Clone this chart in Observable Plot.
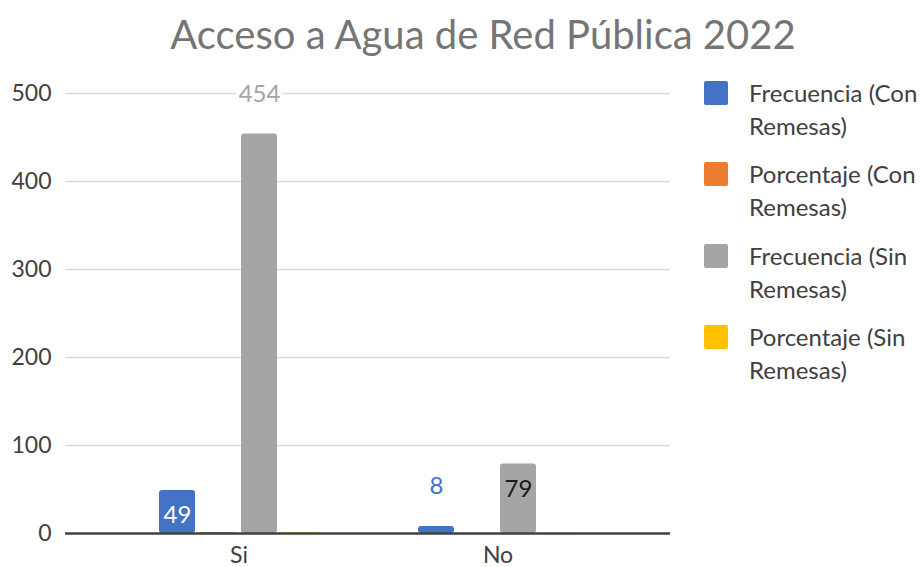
<!DOCTYPE html>
<html>
<head>
<meta charset="utf-8">
<script src="https://cdn.jsdelivr.net/npm/d3@7"></script>
<script src="https://cdn.jsdelivr.net/npm/@observablehq/plot@0.6"></script>
<style>
  html, body { margin: 0; padding: 0; background: #fff; overflow: hidden; }
  #wrap { position: relative; width: 923px; height: 567px; font-family: Lato, "Open Sans", sans-serif; overflow: hidden; }
  #title { position: absolute; left: 0; width: 966px; top: 10px; text-align: center; font-size: 40px; line-height: 48px; color: #757575; white-space: nowrap; }
  .layer { position: absolute; left: 0; top: 0; }
  #legend { position: absolute; left: 704px; top: 76px; width: 260px; }
  .item { display: flex; align-items: flex-start; height: 81.3px; }
  .sw { width: 24px; height: 24px; border-radius: 2px; margin-top: 5px; flex: none; }
  .lab { margin-left: 21px; font-size: 24px; line-height: 33px; color: #404040; width: 185px; }
</style>
</head>
<body>
<div id="wrap">
  <div id="back" class="layer"></div>
  <div id="front" class="layer"></div>
  <div id="base" class="layer"></div>
  <div id="title">Acceso a Agua de Red Pública 2022</div>
  <div id="legend"></div>
</div>
<script>
const categories = ["Si", "No"];
const series = ["Frecuencia (Con Remesas)", "Porcentaje (Con Remesas)", "Frecuencia (Sin Remesas)", "Porcentaje (Sin Remesas)"];
const colors = ["#4472C4", "#ED7D31", "#A5A5A5", "#FFC000"];
const frecConRemesas = [49, 8];
const porcConRemesas = [0.86, 0.14];
const frecSinRemesas = [454, 79];
const porcSinRemesas = [0.85, 0.15];
const yTicks = [0, 100, 200, 300, 400, 500];

const seriesValues = [frecConRemesas, porcConRemesas, frecSinRemesas, porcSinRemesas];
const rows = categories.flatMap((cat, i) => series.map((s, j) => ({cat, series: s, value: seriesValues[j][i]})));
const freqRows = rows.filter(d => d.series.startsWith("Frecuencia"));
const pctRows = rows.filter(d => d.series.startsWith("Porcentaje"));

// labelled bars (frequencies only)
const insideLabels = rows.filter(d => (d.cat === "Si" && d.series === series[0]) || (d.cat === "No" && d.series === series[2]));
const outsideLabels = rows.filter(d => (d.cat === "Si" && d.series === series[2]) || (d.cat === "No" && d.series === series[0]));
const colorOf = s => colors[series.indexOf(s)];

const common = {
  width: 700,
  height: 567,
  marginTop: 93,
  marginBottom: 34,
  marginLeft: 65,
  marginRight: 30,
  style: {fontFamily: "Lato, 'Open Sans', sans-serif", fontSize: "23px", color: "#404040", background: "transparent", overflow: "visible"}
};

// background: value axis and gridlines spanning the whole plot area
const back = Plot.plot({
  ...common,
  x: {axis: null},
  y: {domain: [0, 500]},
  marks: [
    Plot.gridY(yTicks.filter(t => t > 0), {stroke: "#d9d9d9", strokeOpacity: 1, strokeWidth: 1.5}),
    Plot.axisY(yTicks, {tickSize: 0, tickPadding: 14, label: null, fill: "#404040"})
  ]
});
document.getElementById("back").appendChild(back);

// front: clustered bars by category
const front = Plot.plot({
  ...common,
  fx: {domain: categories, paddingInner: 0, paddingOuter: 0.1635, axis: "bottom", label: null, tickSize: 0, tickPadding: 13},
  x: {domain: series, paddingInner: 0.114, paddingOuter: 1.17, axis: null},
  y: {domain: [0, 500], axis: null},
  color: {domain: series, range: colors},
  marks: [
    Plot.barY(freqRows, {fx: "cat", x: "series", y: "value", fill: "series", rx: 3}),
    Plot.barY(pctRows, {fx: "cat", x: "series", y: "value", fill: "series"}),
    Plot.text(insideLabels, {fx: "cat", x: "series", y: "value", text: d => String(d.value), dy: 25, fontSize: 24, fill: d => d.series === series[0] ? "white" : "#1a1a1a"}),
    Plot.text(outsideLabels, {fx: "cat", x: "series", y: "value", text: d => String(d.value), dy: -40, fontSize: 24, fill: d => colorOf(d.series), stroke: "white", strokeWidth: 8, paintOrder: "stroke"})
  ]
});
document.getElementById("front").appendChild(front);

// top: category axis baseline
const base = Plot.plot({
  ...common,
  x: {axis: null},
  y: {domain: [0, 500], axis: null},
  marks: [Plot.ruleY([0], {stroke: "#404040", strokeWidth: 2.5})]
});
document.getElementById("base").appendChild(base);

const legend = document.getElementById("legend");
series.forEach((s, i) => {
  const item = document.createElement("div");
  item.className = "item";
  const sw = document.createElement("div");
  sw.className = "sw";
  sw.style.background = colors[i];
  const lab = document.createElement("div");
  lab.className = "lab";
  lab.textContent = s;
  item.appendChild(sw);
  item.appendChild(lab);
  legend.appendChild(item);
});
</script>
</body>
</html>
